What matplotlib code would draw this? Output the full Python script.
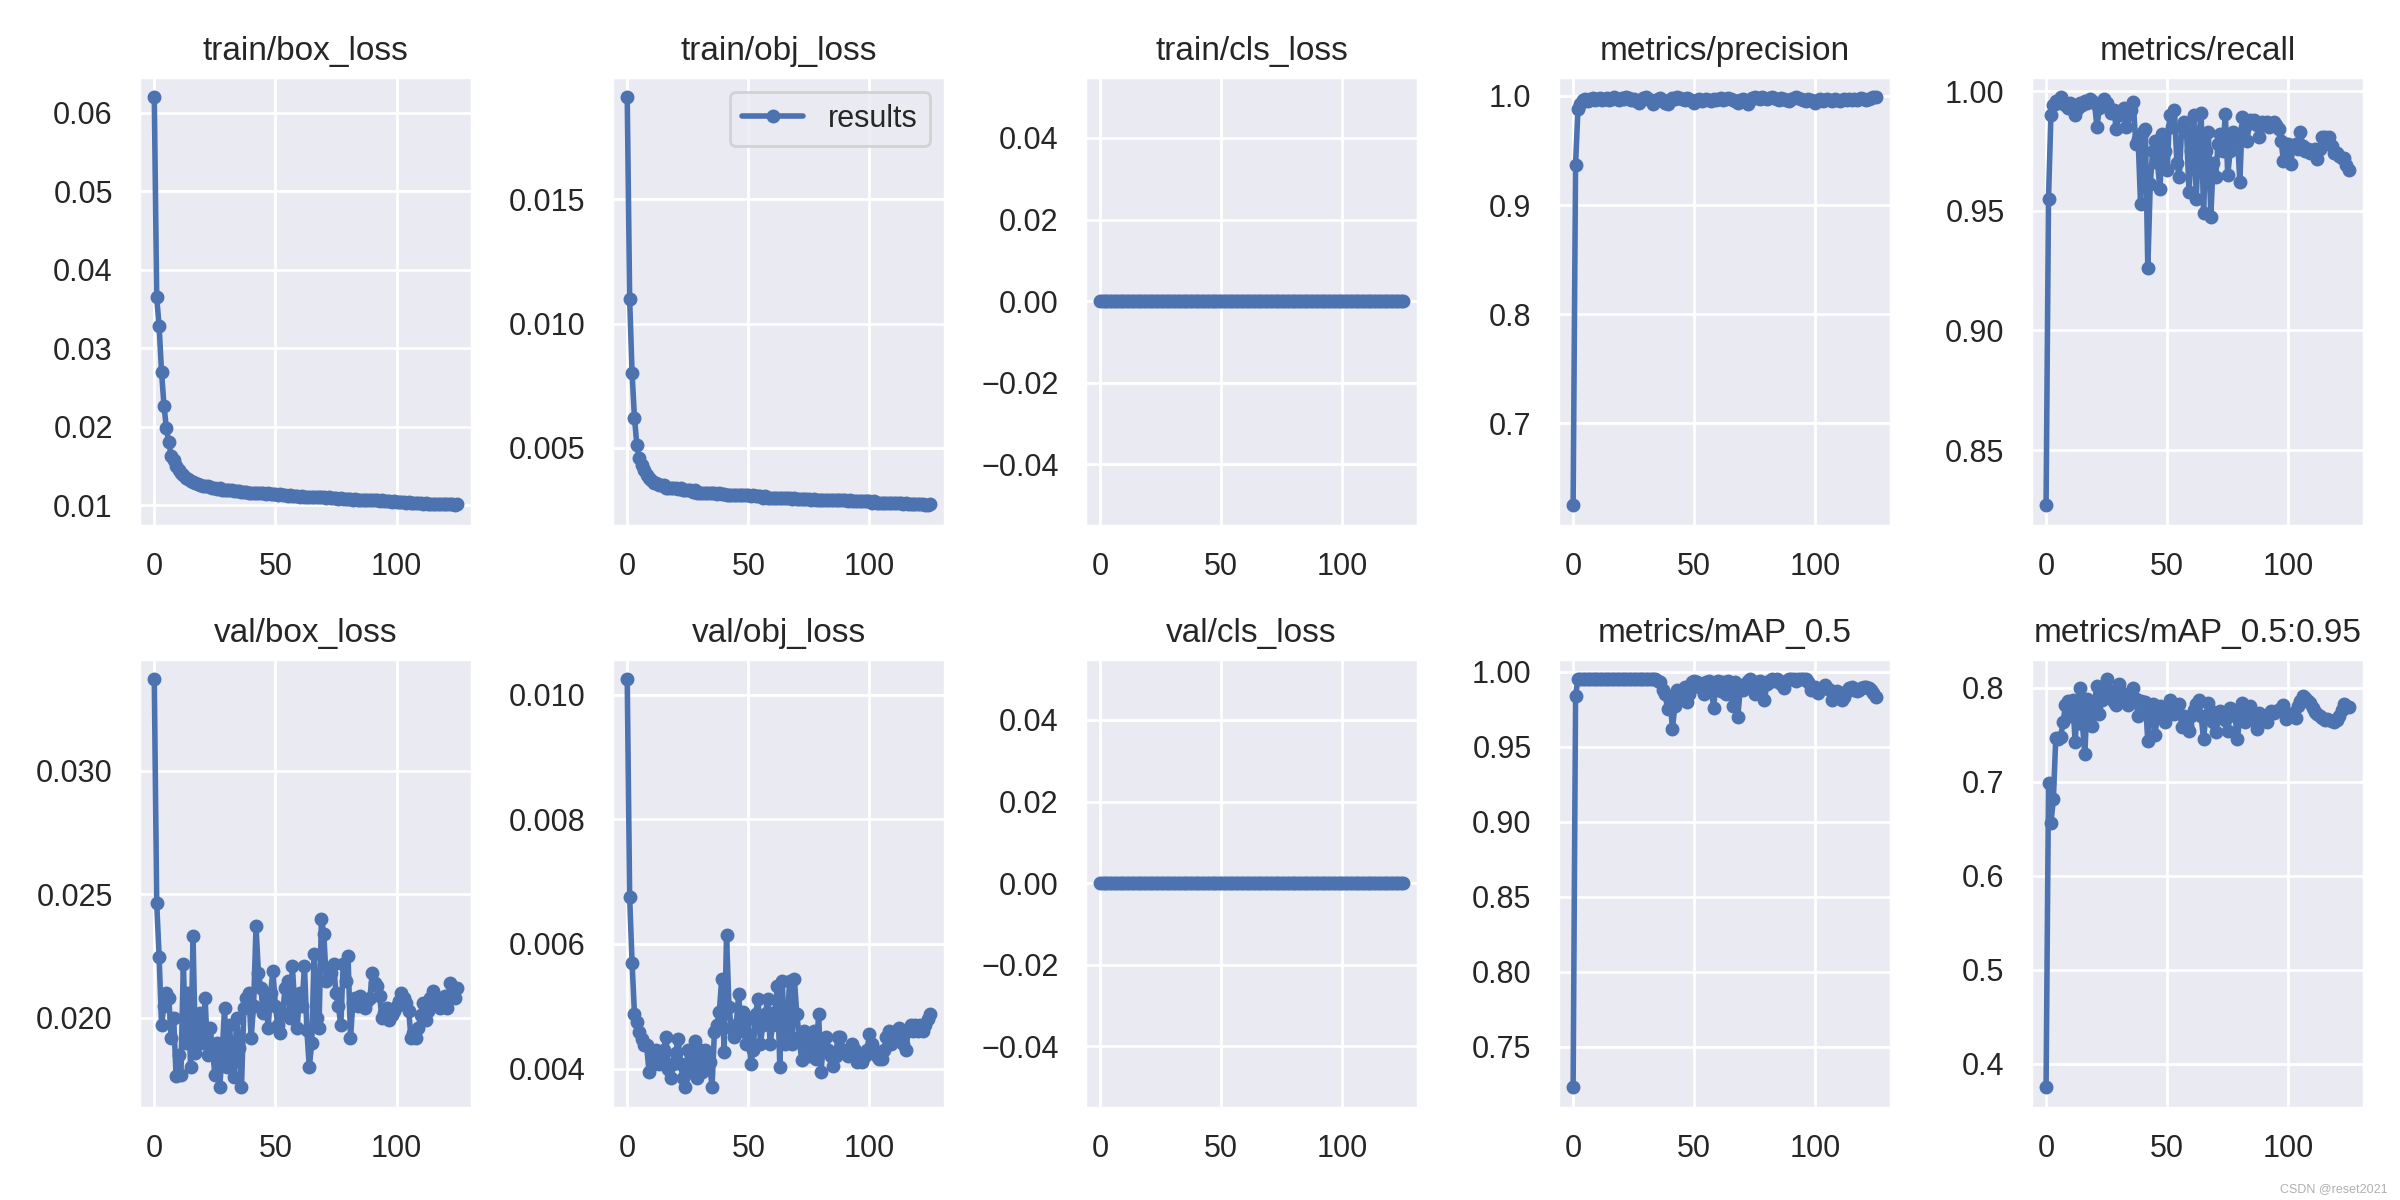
import numpy as np
import matplotlib
matplotlib.use("Agg")
import matplotlib.pyplot as plt
import seaborn as sns

train_box_loss = [
    .0620, .0365, .0328, .0270, .0227, .0198, .0180, .0163, .0157, .0150,
    .0145, .0141, .0138, .0135, .0133, .0131, .0130, .0128, .0127, .0126,
    .0125, .0124, .0124, .0123, .0122, .0122, .0121, .0122, .0120, .0120,
    .0119, .0119, .0119, .0118, .0118, .0118, .0117, .0117, .0117, .0116,
    .0116, .0116, .0115, .0116, .0115, .0115, .0114, .0115, .0114, .0114,
    .0114, .0113, .0114, .0113, .0113, .0112, .0113, .0112, .0112, .0112,
    .0111, .0112, .0111, .0111, .0111, .0110, .0111, .0110, .0110, .0110,
    .0110, .0109, .0110, .0109, .0109, .0109, .0108, .0109, .0108, .0108,
    .0108, .0108, .0107, .0108, .0107, .0107, .0107, .0106, .0107, .0106,
    .0106, .0106, .0106, .0105, .0106, .0105, .0105, .0105, .0104, .0105,
    .0104, .0104, .0104, .0104, .0103, .0104, .0103, .0103, .0103, .0103,
    .0103, .0102, .0103, .0102, .0102, .0102, .0102, .0101, .0102, .0101,
    .0101, .0101, .0101, .0101, .0100, .0101,
]
train_obj_loss = [
    .0191, .0110, .0080, .0062, .0051, .0046, .0043, .0041, .0039, .0038,
    .0037, .0036, .0036, .0035, .0035, .0035, .0034, .0034, .0034, .0034,
    .0034, .00335, .0034, .0033, .0033, .0033, .0033, .00325, .0033, .0032,
    .0032, .0032, .0032, .0032, .0032, .0032, .0032, .00315, .0032, .00315,
    .00315, .0031, .0031, .0031, .0031, .0031, .0031, .0031, .0031, .0031,
    .0031, .00305, .0031, .00305, .00305, .00305, .0030, .00305, .0030, .0030,
    .0030, .0030, .0030, .0030, .0030, .0030, .0030, .0030, .00295, .0030,
    .00295, .00295, .00295, .00295, .00295, .00295, .0029, .00295, .0029, .0029,
    .0029, .0029, .0029, .0029, .0029, .0029, .0029, .0029, .0029, .0029,
    .0029, .00285, .0029, .00285, .00285, .00285, .00285, .00285, .00285, .00285,
    .00285, .0028, .00285, .0028, .0028, .0028, .0028, .0028, .0028, .0028,
    .0028, .0028, .0028, .0028, .00275, .0028, .00275, .00275, .00275, .00275,
    .00275, .00275, .00275, .0027, .0027, .00275,
]
train_cls_loss = [
    0, 0, 0, 0, 0, 0, 0, 0, 0, 0, 0, 0, 0, 0, 0, 0, 0, 0, 0, 0, 0,
    0, 0, 0, 0, 0, 0, 0, 0, 0, 0, 0, 0, 0, 0, 0, 0, 0, 0, 0, 0, 0,
    0, 0, 0, 0, 0, 0, 0, 0, 0, 0, 0, 0, 0, 0, 0, 0, 0, 0, 0, 0, 0,
    0, 0, 0, 0, 0, 0, 0, 0, 0, 0, 0, 0, 0, 0, 0, 0, 0, 0, 0, 0, 0,
    0, 0, 0, 0, 0, 0, 0, 0, 0, 0, 0, 0, 0, 0, 0, 0, 0, 0, 0, 0, 0,
    0, 0, 0, 0, 0, 0, 0, 0, 0, 0, 0, 0, 0, 0, 0, 0, 0, 0, 0, 0, 0,
]
precision = [
    .625, .937, .988, .993, .996, .997, .995, .997, .998, .996,
    .997, .998, .996, .997, .998, .996, .997, .999, .997, .996,
    .998, .997, .999, .998, .996, .997, .995, .994, .996, .998,
    .999, .997, .996, .993, .995, .997, .998, .996, .994, .993,
    .996, .998, .997, .999, .998, .997, .996, .998, .997, .995,
    .994, .996, .997, .995, .996, .997, .996, .995, .997, .996,
    .997, .998, .996, .997, .998, .997, .996, .995, .994, .996,
    .997, .995, .993, .996, .998, .999, .998, .997, .999, .998,
    .997, .998, .999, .998, .997, .996, .998, .997, .996, .995,
    .997, .998, .999, .998, .997, .996, .995, .997, .996, .995,
    .994, .996, .997, .995, .996, .997, .996, .995, .997, .996,
    .995, .996, .997, .996, .997, .996, .997, .996, .997, .998,
    .997, .996, .997, .998, .999, .999,
]
recall = [
    .827, .955, .990, .994, .996, .995, .9975, .995, .994, .993,
    .995, .994, .990, .993, .995, .994, .996, .995, .9965, .996,
    .995, .985, .993, .994, .9965, .995, .993, .991, .992, .984,
    .990, .991, .993, .985, .990, .992, .9955, .978, .980, .953,
    .983, .984, .926, .961, .975, .979, .970, .959, .982, .975,
    .967, .990, .985, .992, .970, .964, .985, .987, .983, .958,
    .975, .990, .955, .980, .991, .949, .975, .983, .9475, .970,
    .964, .978, .982, .975, .9905, .965, .975, .983, .980, .981,
    .962, .989, .985, .979, .988, .987, .988, .986, .981, .987,
    .986, .987, .985, .986, .987, .986, .984, .979, .971, .978,
    .978, .9695, .977, .978, .976, .983, .977, .975, .976, .974,
    .975, .976, .9715, .976, .981, .981, .980, .981, .977, .974,
    .974, .973, .972, .972, .969, .967,
]
val_box_loss = [
    .0337, .02465, .02248, .01972, .0205, .0210, .0208, .0192, .0200, .01766,
    .0185, .0177, .0222, .0190, .0210, .0180, .0233, .0186, .0195, .0202,
    .0190, .0208, .0185, .0196, .0188, .0177, .0190, .0172, .0185, .0204,
    .0180, .0197, .0185, .0176, .0200, .0188, .0172, .0204, .0208, .0210,
    .0192, .0205, .0237, .0218, .0212, .0202, .0208, .0196, .0210, .0219,
    .0205, .0197, .0194, .0202, .0212, .0215, .0200, .0221, .0205, .0196,
    .0210, .0205, .0221, .0195, .0180, .0190, .0226, .0200, .0196, .0240,
    .0234, .0215, .0220, .0218, .0222, .0210, .0205, .0197, .0222, .0215,
    .0225, .0192, .0206, .0208, .0205, .0209, .0206, .0204, .0207, .0208,
    .0218, .0214, .0213, .0209, .0200, .0202, .0204, .0199, .0201, .0203,
    .0205, .0207, .0210, .0208, .0206, .0203, .0192, .0194, .0192, .0196,
    .0201, .0206, .0199, .0203, .0208, .0211, .0209, .0206, .0204, .0207,
    .0209, .0204, .0214, .0209, .0208, .0212,
]
val_obj_loss = [
    .01025, .00675, .0057, .00487, .00475, .00459, .00448, .00437, .00437, .00395,
    .0043, .00408, .0043, .00408, .0041, .00430, .0045, .00400, .00384, .00408,
    .00425, .00448, .00408, .00384, .0037, .0043, .00395, .00415, .00444, .00384,
    .0043, .00395, .0043, .00415, .0041, .0037, .00459, .0047, .0049, .00544,
    .00427, .00615, .00499, .00465, .0045, .00470, .0052, .00460, .0049, .00440,
    .00480, .00408, .0043, .00488, .00512, .00440, .00470, .00488, .00512, .00440,
    .00470, .00490, .00533, .00403, .00541, .00440, .00460, .00541, .00440, .00544,
    .00488, .00450, .00413, .00460, .00450, .00420, .00440, .00460, .00415, .00488,
    .00395, .00440, .00450, .00430, .00420, .00404, .00420, .0045, .0045, .00430,
    .00425, .00420, .00430, .00440, .00430, .00410, .00420, .00410, .00420, .00430,
    .00455, .00440, .00430, .00420, .00415, .00415, .0043, .0045, .0046, .0044,
    .0045, .0046, .00465, .0045, .0044, .0043, .0046, .0047, .0046, .0047,
    .0046, .0047, .0046, .0047, .0048, .00487,
]
val_cls_loss = [
    0, 0, 0, 0, 0, 0, 0, 0, 0, 0, 0, 0, 0, 0, 0, 0, 0, 0, 0, 0, 0,
    0, 0, 0, 0, 0, 0, 0, 0, 0, 0, 0, 0, 0, 0, 0, 0, 0, 0, 0, 0, 0,
    0, 0, 0, 0, 0, 0, 0, 0, 0, 0, 0, 0, 0, 0, 0, 0, 0, 0, 0, 0, 0,
    0, 0, 0, 0, 0, 0, 0, 0, 0, 0, 0, 0, 0, 0, 0, 0, 0, 0, 0, 0, 0,
    0, 0, 0, 0, 0, 0, 0, 0, 0, 0, 0, 0, 0, 0, 0, 0, 0, 0, 0, 0, 0,
    0, 0, 0, 0, 0, 0, 0, 0, 0, 0, 0, 0, 0, 0, 0, 0, 0, 0, 0, 0, 0,
]
map_05 = [
    .723, .984, .995, .995, .995, .995, .995, .995, .995, .995,
    .995, .995, .995, .995, .995, .995, .995, .995, .995, .995,
    .995, .995, .995, .995, .995, .995, .995, .995, .995, .995,
    .995, .995, .995, .995, .995, .994, .993, .988, .985, .975,
    .982, .962, .977, .988, .984, .986, .990, .980, .985, .993,
    .994, .993, .990, .992, .985, .993, .994, .989, .976, .993,
    .994, .987, .993, .985, .994, .988, .977, .993, .970, .989,
    .988, .992, .994, .995, .990, .985, .993, .994, .990, .981,
    .992, .994, .995, .994, .995, .993, .992, .989, .994, .995,
    .995, .995, .994, .995, .995, .995, .995, .993, .988, .989,
    .990, .986, .988, .989, .991, .989, .988, .981, .986, .987,
    .986, .981, .983, .987, .989, .990, .988, .987, .988, .989,
    .990, .990, .989, .988, .986, .983,
]
map_05_095 = [
    .375, .698, .656, .681, .746, .745, .747, .763, .781, .786,
    .770, .787, .742, .780, .800, .761, .729, .788, .770, .759,
    .785, .802, .772, .787, .796, .809, .790, .796, .785, .781,
    .804, .795, .790, .786, .781, .790, .800, .788, .770, .786,
    .782, .785, .743, .775, .782, .749, .774, .780, .770, .763,
    .771, .787, .778, .772, .775, .783, .758, .770, .760, .754,
    .770, .776, .782, .787, .770, .745, .770, .784, .775, .763,
    .753, .768, .775, .770, .765, .754, .778, .776, .770, .745,
    .770, .784, .763, .775, .780, .770, .765, .756, .773, .770,
    .765, .763, .772, .775, .773, .775, .776, .778, .781, .767,
    .770, .771, .773, .768, .780, .786, .791, .789, .786, .784,
    .778, .774, .772, .770, .768, .766, .767, .766, .764, .763,
    .766, .770, .776, .782, .780, .779,
]

titles = ["train/box_loss", "train/obj_loss", "train/cls_loss", "metrics/precision", "metrics/recall",
          "val/box_loss", "val/obj_loss", "val/cls_loss", "metrics/mAP_0.5", "metrics/mAP_0.5:0.95"]
series = [train_box_loss, train_obj_loss, train_cls_loss, precision, recall,
          val_box_loss, val_obj_loss, val_cls_loss, map_05, map_05_095]

sns.set_theme()
plt.rcParams["font.family"] = ["Liberation Sans", "DejaVu Sans"]

epochs = np.arange(len(train_box_loss))

fig, ax = plt.subplots(2, 5, figsize=(12, 6), tight_layout=True)
ax = ax.ravel()
for i, (titulo, y) in enumerate(zip(titles, series)):
    ax[i].plot(epochs, y, marker='.', label="results", linewidth=2, markersize=8)
    ax[i].set_title(titulo, fontsize=12)
ax[1].legend()

fig.text(0.995, 0.004, "CSDN @reset2021", ha="right", va="bottom", fontsize=4.5, color="#b0b0b0")
fig.savefig("out.png", dpi=200)
plt.close()
